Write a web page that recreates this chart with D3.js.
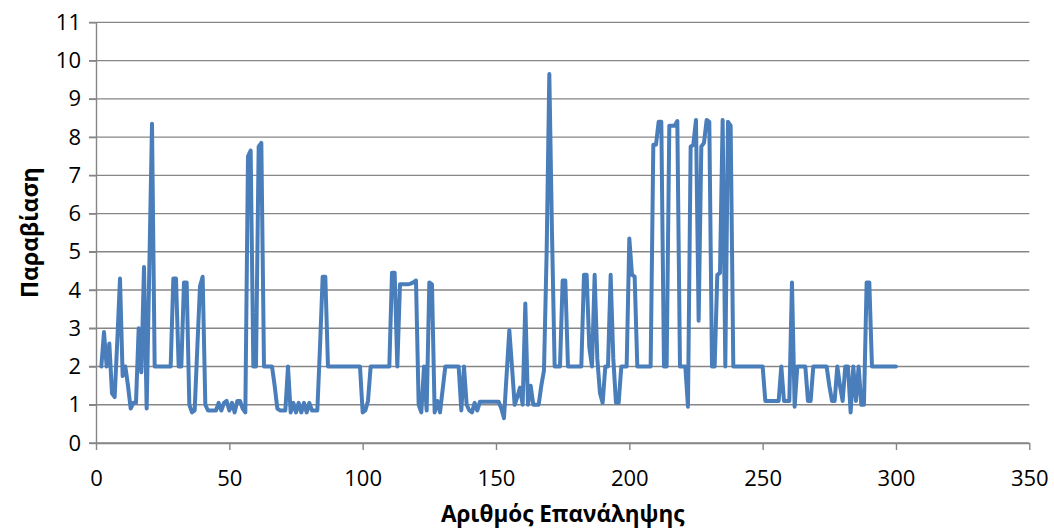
<!DOCTYPE html>
<html>
<head>
<meta charset="utf-8">
<script src="https://cdn.jsdelivr.net/npm/d3@7"></script>
<style>
  html, body { margin: 0; padding: 0; background: #ffffff; }
  svg { display: block; }
  text { font-family: "Open Sans", "Liberation Sans", sans-serif; fill: #000; }
</style>
</head>
<body>
<svg id="chart" width="1054" height="531"></svg>
<script>
// Violation value per iteration, starting at iteration 2
const firstIteration = 2;
const violation = [
  2.0, 2.9, 2.0, 2.6, 1.3, 1.2, 2.7, 4.3, 1.75,
  2.0, 1.5, 0.9, 1.05, 1.05, 3.0, 1.85, 4.6, 0.9, 4.6,
  8.35, 2.0, 2.0, 2.0, 2.0, 2.0, 2.0, 2.0, 4.3, 4.3,
  2.0, 2.0, 4.2, 4.2, 1.0, 0.8, 0.85, 2.5, 4.1, 4.35,
  1.0, 0.85, 0.85, 0.85, 0.85, 1.05, 0.85, 1.05, 1.1, 0.85,
  1.05, 0.8, 1.1, 1.1, 0.9, 0.8, 7.5, 7.65, 2.0, 2.0,
  7.75, 7.85, 2.0, 2.0, 2.0, 2.0, 1.5, 0.9, 0.85, 0.85,
  0.85, 2.0, 0.8, 1.05, 0.8, 1.05, 0.8, 1.05, 0.8, 1.05,
  0.85, 0.85, 0.85, 2.5, 4.35, 4.35, 2.0, 2.0, 2.0, 2.0,
  2.0, 2.0, 2.0, 2.0, 2.0, 2.0, 2.0, 2.0, 2.0, 0.8,
  0.85, 1.1, 2.0, 2.0, 2.0, 2.0, 2.0, 2.0, 2.0, 2.0,
  4.45, 4.45, 2.0, 4.15, 4.15, 4.15, 4.15, 4.17, 4.2, 4.25,
  1.0, 0.8, 2.0, 0.85, 4.2, 4.15, 0.8, 1.1, 0.8, 1.4,
  2.0, 2.0, 2.0, 2.0, 2.0, 2.0, 0.85, 2.0, 1.0, 0.85,
  0.8, 1.05, 0.85, 1.08, 1.08, 1.08, 1.08, 1.08, 1.08, 1.08,
  1.08, 0.9, 0.65, 1.8, 2.95, 2.0, 1.0, 1.2, 1.45, 1.0,
  3.65, 1.0, 1.5, 1.0, 1.0, 1.0, 1.5, 1.9, 5.0, 9.65,
  5.5, 2.0, 2.0, 2.0, 4.25, 4.25, 2.0, 2.0, 2.0, 2.0,
  2.0, 2.0, 4.4, 4.4, 2.5, 2.0, 4.4, 2.2, 1.3, 1.05,
  2.0, 2.0, 4.4, 2.2, 1.05, 1.05, 2.0, 2.0, 2.0, 5.35,
  4.4, 4.35, 2.0, 2.0, 2.0, 2.0, 2.0, 2.0, 7.8, 7.8,
  8.4, 8.4, 2.0, 2.0, 8.3, 8.3, 8.3, 8.42, 2.0, 2.0,
  2.0, 0.95, 7.75, 7.8, 8.45, 3.2, 7.75, 7.85, 8.45, 8.4,
  2.0, 2.0, 4.4, 4.45, 8.45, 2.0, 8.4, 8.3, 2.0, 2.0,
  2.0, 2.0, 2.0, 2.0, 2.0, 2.0, 2.0, 2.0, 2.0, 2.0,
  1.1, 1.1, 1.1, 1.1, 1.1, 1.1, 2.0, 1.1, 1.1, 1.1,
  4.2, 0.95, 2.0, 2.0, 2.0, 2.0, 1.1, 1.1, 2.0, 2.0,
  2.0, 2.0, 2.0, 2.0, 1.5, 1.1, 1.1, 2.0, 1.5, 1.1,
  2.0, 2.0, 0.8, 2.0, 1.1, 2.0, 1.0, 1.0, 4.2, 4.2,
  2.0, 2.0, 2.0, 2.0, 2.0, 2.0, 2.0, 2.0, 2.0, 2.0
];

const xTicks = [0, 50, 100, 150, 200, 250, 300, 350];
const yTicks = [0, 1, 2, 3, 4, 5, 6, 7, 8, 9, 10, 11];
const xTitle = "Αριθμός Επανάληψης";
const yTitle = "Παραβίαση";

const svg = d3.select("#chart");
const plot = { left: 96, right: 1029.3, top: 22.4, bottom: 443 };
const gridColor = "#868686";

const x = d3.scaleLinear().domain([0, 350]).range([plot.left, plot.right]);
const y = d3.scaleLinear().domain([0, 11]).range([plot.bottom, plot.top]);

// Horizontal gridlines (extend left past the axis as outside tick marks)
svg.append("g")
  .selectAll("line")
  .data(yTicks)
  .join("line")
  .attr("x1", plot.left - 7)
  .attr("x2", plot.right)
  .attr("y1", d => y(d))
  .attr("y2", d => y(d))
  .attr("stroke", gridColor)
  .attr("stroke-width", 1.4);

// Y axis
const yAxis = svg.append("g")
  .attr("transform", `translate(${plot.left},0)`)
  .call(d3.axisLeft(y).tickValues(yTicks).tickSize(7).tickSizeOuter(0).tickPadding(8));
yAxis.select(".domain").attr("stroke", gridColor).attr("stroke-width", 1.4);
yAxis.selectAll(".tick line").attr("stroke", gridColor).attr("stroke-width", 1.4);
yAxis.selectAll(".tick text")
  .attr("font-family", "Open Sans, Liberation Sans, sans-serif")
  .attr("font-size", 22)
  .attr("fill", "#000");

// X axis
const xAxis = svg.append("g")
  .attr("transform", `translate(0,${plot.bottom})`)
  .call(d3.axisBottom(x).tickValues(xTicks).tickSize(7).tickSizeOuter(0).tickPadding(20));
xAxis.select(".domain").attr("stroke", gridColor).attr("stroke-width", 1.4);
xAxis.selectAll(".tick line").attr("stroke", gridColor).attr("stroke-width", 1.4);
xAxis.selectAll(".tick text")
  .attr("font-family", "Open Sans, Liberation Sans, sans-serif")
  .attr("font-size", 22)
  .attr("fill", "#000");

// Violation series
const line = d3.line()
  .x((d, i) => x(firstIteration + i))
  .y(d => y(d));

svg.append("path")
  .datum(violation)
  .attr("d", line)
  .attr("fill", "none")
  .attr("stroke", "#4A7EBB")
  .attr("stroke-width", 4)
  .attr("stroke-linejoin", "round")
  .attr("stroke-linecap", "round");

// Axis titles
svg.append("text")
  .attr("x", (plot.left + plot.right) / 2)
  .attr("y", 522)
  .attr("text-anchor", "middle")
  .attr("font-size", 22.5)
  .attr("font-weight", "bold")
  .text(xTitle);

svg.append("text")
  .attr("transform", `translate(38,${(plot.top + plot.bottom) / 2}) rotate(-90)`)
  .attr("text-anchor", "middle")
  .attr("font-size", 23)
  .attr("font-weight", "bold")
  .text(yTitle);
</script>
</body>
</html>
